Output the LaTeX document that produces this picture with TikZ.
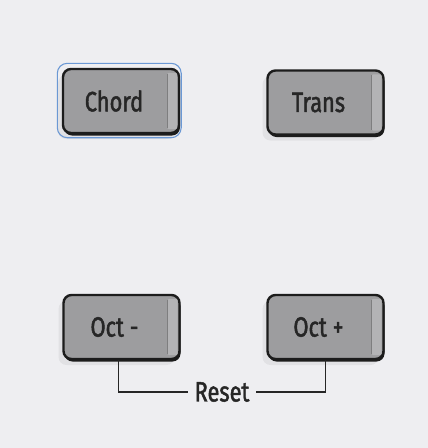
\documentclass[tikz,border=0pt]{standalone}
\usepackage{fontspec}
\newfontfamily\padfont[FakeStretch=0.78,FakeBold=1.6]{Fira Sans}
\usetikzlibrary{shadows}
\definecolor{panelbg}{HTML}{EEEEF1}
\definecolor{padface}{HTML}{9D9D9F}
\definecolor{padedge}{HTML}{1C1C1C}
\definecolor{padlight}{HTML}{B3B3B5}
\definecolor{padtext}{HTML}{262626}
\definecolor{selblue}{HTML}{6B98D4}
\tikzset{
  pad/.style={draw=padedge, line width=2.4pt, fill=padface, rounded corners=8pt,
    minimum width=116pt, minimum height=64pt, inner sep=0pt,
    font=\padfont\fontsize{28}{28}\selectfont, text=padtext,
    drop shadow={shadow xshift=-5pt, shadow yshift=-6pt, opacity=0.05, fill=black},
    drop shadow={shadow xshift=1pt, shadow yshift=-2.5pt, opacity=1, fill=padedge},
    execute at end node=\kern14pt},
  bevel/.style={fill=padlight},
  selring/.style={draw=selblue, line width=1.1pt, rounded corners=10pt},
  resetline/.style={draw=padtext, line width=1.2pt},
}
\begin{document}
\begin{tikzpicture}[x=1pt,y=-1pt]
    \fill[panelbg] (0,0) rectangle (428,448);
    \useasboundingbox (0,0) rectangle (428,448);
    \node[pad] (chord) at (121,101) {Chord};
    \node[pad] (trans) at (325.5,102.5) {Trans};
    \node[pad] (octm) at (121.5,327) {Oct -};
    \node[pad] (octp) at (325.5,327) {Oct +};
    % right side bevel strips
    \foreach \b in {chord,trans,octm,octp}{
      \fill[bevel, rounded corners=2pt] ([xshift=-13pt,yshift=-5pt]\b.north east) rectangle ([xshift=-3pt,yshift=5pt]\b.south east);
      \draw[padface!80!black, line width=0.6pt] ([xshift=-13pt,yshift=-6pt]\b.north east) -- ([xshift=-13pt,yshift=6pt]\b.south east);
    }
    \draw[selring] ([xshift=-4.5pt,yshift=4.5pt]chord.north west) rectangle ([xshift=1pt,yshift=-3.5pt]chord.south east);
    \node[font=\padfont\fontsize{28}{28}\selectfont, text=padtext, inner xsep=6pt, inner ysep=0pt] (reset) at (222,392) {Reset};
    \draw[resetline] ([xshift=-3pt]octm.south) |- (reset.west);
    \draw[resetline] (octp.south) |- (reset.east);
  \end{tikzpicture}
\end{document}
